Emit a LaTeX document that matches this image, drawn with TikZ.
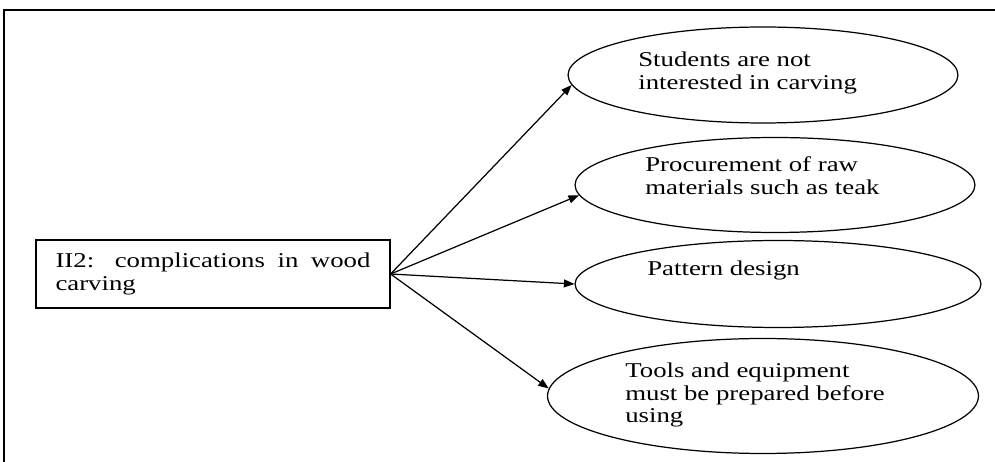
\documentclass[tikz,border=0pt]{standalone}
\usepackage{fontspec}
\setmainfont{Liberation Serif}
\newfontfamily\widefont[FakeStretch=1.27]{Liberation Serif}
\usetikzlibrary{shapes.geometric,arrows.meta}

\begin{document}
\begin{tikzpicture}[x=0.02cm,y=-0.02cm,
  oval/.style={draw,ellipse,line width=0.7pt,inner sep=0pt},
  oval text/.style={anchor=west,align=left,inner sep=0pt,font=\widefont\fontsize{12}{13}\selectfont},
  link/.style={-{Triangle[length=6pt,width=4.5pt]},line width=0.7pt}]
\useasboundingbox (0,0) rectangle (995,462);

% frame, only left and top sides show
\draw [line width=0.7pt] (4,480) -- (4,10) -- (1010,10);

\node [draw, line width=0.7pt, minimum width=7.08cm, minimum height=1.36cm, text width=6.3cm, align=justify, font=\widefont\fontsize{12}{13}\selectfont] (compl) at (213,274) {II2: complications in wood carving};

\node [oval, minimum width=7.8cm, minimum height=1.92cm] (students) at (763,75) {};
\node [oval, minimum width=8.0cm, minimum height=1.9cm] (procure) at (775,185) {};
\node [oval, minimum width=8.12cm, minimum height=1.74cm] (pattern) at (778,284) {};
\node [oval, minimum width=8.62cm, minimum height=2.3cm] (tools) at (763,396) {};

\node [oval text] (students txt) at (638,73) {Students are not\\interested in carving};
\node [oval text] (procure txt) at (645,176) {Procurement of raw\\materials such as teak};
\node [oval text] (pattern txt) at (647,270) {Pattern design};
\node [oval text] (tools txt) at (625,395) {Tools and equipment\\must be prepared before\\using};

\draw [link] (compl.east) -- (students.183);
\draw [link] (compl.east) -- (procure.183);
\draw [link] (compl.east) -- (pattern.west);
\draw [link] (compl.east) -- (tools.178);
\end{tikzpicture}
\end{document}
